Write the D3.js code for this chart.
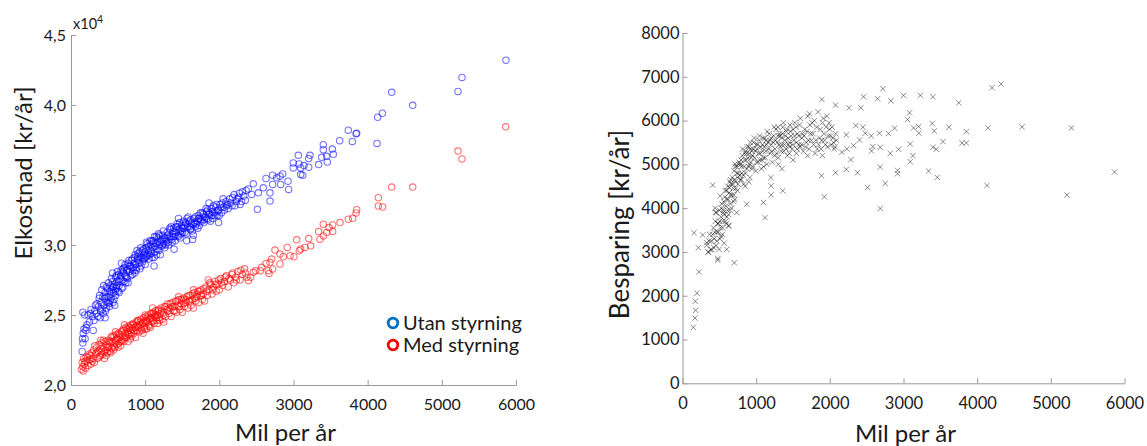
<!DOCTYPE html>
<head>
    <meta charset="utf-8">
    <title>Elkostnad och besparing</title>
    <style>
        body { margin: 0; background: #fff; }
        svg text { font-family: Lato, "Noto Sans", sans-serif; fill: #1a1a1a; }
        .axis path, .axis line { stroke: #9a9a9a; }
    </style>
</head>
<body>
<svg width="1147" height="446"></svg>

<script src="https://cdn.jsdelivr.net/npm/d3@7"></script>

<script>

    //****************data***************************************************//

    // Utan styrning: [mil per år, kr/år]
    var utan = [
        [150,22400],[155,23300],[165,23700],[175,24000],[160,23000],[190,23300],[200,23900],[215,24300],[160,25200],[230,25000],
        [260,25100],[290,24900],[320,25300],[340,25100],[370,25600],[395,24800],[405,25900],[420,25400],[430,26300],[445,25700],
        [460,26600],[470,26000],[480,25500],[490,26900],[500,26300],[510,25800],[520,26700],[530,27100],[540,26200],[550,26800],
        [560,27400],[565,25900],[575,26600],[590,27200],[600,27700],[610,26900],[620,27400],[640,27900],[650,27100],[660,27600],
        [675,28200],[690,27500],[700,27000],[710,28000],[720,28400],[735,27800],[750,28200],[760,27600],[775,28700],[790,28100],
        [800,28500],[815,28900],[830,27900],[840,28400],[855,29100],[870,28600],[880,28200],[895,29000],[905,29400],[915,28700],
        [930,29100],[945,28500],[960,29600],[970,29000],[985,29300],[1000,28600],[1010,29800],[1020,29200],[1040,29600],[1055,29000],
        [1070,30000],[1085,29400],[1100,29800],[1115,30300],[1130,29500],[1145,30100],[1160,29700],[1175,30500],[1190,30000],[1205,29300],
        [1220,30300],[1235,30700],[1250,30100],[1265,29800],[1280,30500],[1295,30900],[1310,30200],[1325,30600],[1340,31100],[1355,30400],
        [1370,30800],[1390,31000],[1405,30300],[1420,31300],[1440,30700],[1455,31100],[1470,30500],[1490,31400],[1505,30900],[1520,31200],
        [1540,31600],[1555,30800],[1575,31300],[1590,31700],[1610,31100],[1625,31500],[1640,30400],[1660,31900],[1680,31300],[1700,31700],
        [1715,32100],[1730,31400],[1750,31800],[1770,32300],[1790,31600],[1810,32000],[1830,32400],[1850,31800],[1870,32200],[1890,32600],
        [1910,31900],[1930,32300],[1950,32700],[1970,32100],[1990,32500],[2010,32900],[2030,32300],[2060,32700],[2090,33100],[2120,32600],
        [2150,33000],[2180,33400],[2210,32800],[2240,33300],[2270,33700],[2300,33100],[2330,33500],[2360,33900],
        [480,26300],[520,25600],[555,27000],[610,27800],[650,26600],[700,28300],[740,27300],[780,28900],[820,28400],[860,28000],
        [900,29200],[940,29800],[990,29000],[1030,30100],[1060,29300],[1090,30300],[1120,29100],[1150,30600],[1200,30200],[1240,30000],
        [1290,30300],[1330,31200],[1380,30600],[1430,31500],[1480,31000],[1530,31400],[1580,32000],[1620,31200],[1670,31600],[1720,31900],
        [1780,32000],[1840,32500],[1900,32100],[1960,32900],[2040,33000],[2100,32800],[440,27100],[380,26200],[350,25800],[600,26400],
        [560,28000],[680,28700],[930,28300],[1180,30800],[1450,31900],[1860,33000],[2200,33600],[2280,32900],
        [310,24600],[330,25700],[360,24900],[385,26400],[400,25300],[415,26800],[435,25100],[450,26200],[465,25300],[475,27000],
        [495,25900],[505,27300],[525,26000],[535,26500],[545,27600],[570,27000],[580,26100],[595,26700],[615,27100],[625,28100],
        [635,26700],[645,27400],[670,27800],[685,26900],[695,28100],[715,27400],[730,28600],[745,27700],[765,28300],[770,27300],
        [785,28500],[805,27800],[825,29000],[835,28200],[850,28700],[865,29300],[885,28400],[890,29600],[910,28900],[925,29500],
        [950,29100],[965,28800],[975,29700],[995,29500],[1005,29100],[1015,30200],[1035,29300],[1045,29900],[1065,30300],[1075,29600],
        [1095,29100],[1105,30100],[1125,30600],[1135,29900],[1155,29300],[1170,30200],[1185,29600],[1195,30700],[1215,29900],[1230,30400],
        [1245,31000],[1260,30500],[1275,30000],[1300,30700],[1315,30000],[1335,30500],[1350,31300],[1365,30200],[1385,31200],[1400,30600],
        [1415,30900],[1435,31300],[1450,30600],[1465,31600],[1485,30800],[1500,31200],[1515,31700],[1535,30900],[1550,31500],[1565,31900],
        [1600,31300],[1615,31800],[1635,31000],[1650,31500],[1675,32000],[1690,31500],[1710,31200],[1725,31900],[1745,32300],[1760,31700],
        [1785,32200],[1800,31800],[1820,32600],[1835,31900],[1860,32300],[1880,31700],[1905,32400],[1920,32800],[1940,32100],[1975,32400],
        [2000,32100],[2020,32700],[2050,33300],[2070,32500],[2110,32900],[2140,33300],[2170,32800],[2230,33100],[2260,33400],[2310,33800],
        [2350,33200],[2390,34000],[1390,29700],[1650,30700],[1120,28500],[300,23900],[250,24500],[270,25400],[185,25000],[205,24100],
        [590,25700],[460,24800],[1990,31600],[1560,30300],
        [2436,33615],[2458,34368],[2512,32550],[2526,33728],[2593,34084],[2629,34751],[2683,33728],[2683,33139],[2719,34986],[2719,34325],
        [2773,34795],[2818,34915],[2827,34325],[2854,35078],[2926,34560],[2935,33970],[2997,35860],[2997,35504],[3065,36406],[3074,35789],
        [3097,35504],[3097,35031],[3124,34986],[3141,35675],[3205,36172],[3205,35554],[3222,36406],[3339,35746],[3380,36264],[3402,37166],
        [3402,36811],[3447,36335],[3456,35930],[3523,36854],[3537,36477],[3622,37450],[3739,38203],[3793,37400],[3843,37950],[3852,37990],
        [4126,37258],[4135,39126],[4198,39411],[4324,40902],[4607,39980],[5218,40973],[5272,41970],[5865,43203]
    ];

    // Med styrning: [mil per år, kr/år]
    var med = [
        [140,21100],[150,21600],[160,21300],[170,21900],[180,21500],[195,21200],[205,22000],[215,21700],[230,21400],[245,22200],
        [255,21800],[270,21500],[280,22300],[295,21900],[305,22500],[315,21600],[330,22200],[345,22700],[355,21900],[370,22400],
        [380,22900],[395,22100],[405,22600],[415,23000],[425,22200],[440,22700],[450,21900],[460,23100],[470,22500],[480,22900],
        [490,22300],[500,23200],[510,22700],[520,22400],[530,23000],[540,23400],[550,22600],[560,23100],[570,22800],[580,23500],
        [590,22700],[600,23200],[610,23600],[620,22900],[630,23300],[640,23700],[650,23000],[660,23400],[670,22800],[680,23800],
        [690,23200],[700,23500],[710,24000],[720,23300],[730,23700],[740,24100],[750,23400],[760,23800],[770,23100],[780,24200],
        [790,23600],[800,23900],[810,24300],[820,23500],[830,24000],[840,24400],[850,23700],[860,24100],[870,23400],[880,24500],
        [890,23900],[900,24200],[910,24600],[920,23800],[930,24300],[940,24700],[950,24000],[960,24400],[970,23700],[980,24800],
        [990,24200],[1000,24500],[1010,24900],[1020,24000],[1030,24500],[1040,25000],[1050,24300],[1060,24700],[1070,24100],[1080,25100],
        [1090,24500],[1100,24800],[1110,25200],[1120,24400],[1130,24900],[1140,25300],[1150,24600],[1160,25000],[1170,24400],[1180,25400],
        [1190,24800],[1200,25100],[1215,25500],[1230,24700],[1245,25200],[1260,25600],[1275,24900],[1290,25400],[1305,25800],[1320,25100],
        [1335,25500],[1350,24900],[1365,25900],[1380,25300],[1395,25600],[1410,26000],[1425,25200],[1440,25700],[1455,26100],[1470,25400],
        [1485,25800],[1500,25200],[1515,26200],[1530,25600],[1545,25900],[1560,26300],[1575,25500],[1590,26000],[1605,26400],[1620,25700],
        [1635,26100],[1650,25500],[1665,26600],[1680,26000],[1695,26300],[1710,26700],[1725,25900],[1740,26400],[1755,26800],[1770,26100],
        [1785,26500],[1800,26000],[1820,27000],[1840,26400],[1860,26800],[1880,27200],[1900,26500],[1920,27000],[1940,27400],[1960,26700],
        [1980,27200],[2000,26800],[2020,27600],[2045,27100],[2070,27400],[2095,27800],[2120,27000],[2145,27500],[2170,27900],[2195,27300],
        [2220,27700],[2250,28100],[2280,27500],[2310,27900],[2340,28300],[2370,27700],
        [165,21000],[190,21700],[225,22000],[260,22100],[290,21700],[320,22800],[350,22300],[385,22000],[410,22400],[435,23200],
        [455,22400],[475,22100],[495,22700],[515,23100],[535,22300],[555,23500],[575,22500],[595,23000],[615,23300],[635,22700],
        [655,23600],[675,23100],[695,23900],[715,23100],[735,23400],[755,24000],[775,23600],[795,24100],[815,23700],[835,24300],
        [855,23900],[875,24200],[895,24600],[915,24100],[935,24500],[955,23900],[975,24500],[995,24000],[1015,24600],[1035,24800],
        [1055,24200],[1075,24800],[1095,25100],[1115,24600],[1135,25000],[1155,24800],[1175,25300],[1195,24600],[1220,25300],[1250,25000],
        [1280,25600],[1310,25300],[1340,25800],[1370,25600],[1400,25300],[1430,26000],[1460,25600],[1490,26100],[1520,25800],[1550,26100],
        [1580,26400],[1610,26000],[1640,26500],[1670,26200],[1700,26500],[1730,26700],[1760,26400],[1790,26900],[1830,26700],[1870,27300],
        [1910,26800],[1950,27200],[1990,27500],[2030,27300],[2080,27700],[2130,27600],[2180,28000],[2230,27500],[2290,28200],[2350,28000],
        [600,23800],[800,23300],[1000,25000],[1250,24500],[1450,26300],[1650,26800],[1850,27500],[400,23200],[720,24300],[1100,25500],
        [2391,27457],[2423,27690],[2458,28048],[2490,28168],[2553,28168],[2571,28402],[2629,28686],[2660,28168],[2670,27970],[2683,28760],
        [2706,28998],[2719,28288],[2750,29635],[2818,29352],[2818,28642],[2862,29162],[2916,29824],[2953,29233],[3007,29162],[3043,30369],
        [3078,29588],[3097,29706],[3155,29824],[3205,30461],[3231,29943],[3339,30960],[3357,30419],[3402,31485],[3402,30650],[3447,30888],
        [3479,31245],[3528,31435],[3528,30960],[3627,31600],[3739,31839],[3798,31910],[3843,32288],[3852,32521],[4144,33374],[4144,32786],
        [4202,32713],[4324,34134],[4607,34134],[5218,36712],[5272,36143],[5861,38442]
    ];

    // Besparing: [mil per år, kr/år]
    var besparing = [
        [330,3150],[350,3000],[370,3400],[390,3250],[400,3050],[420,3550],[430,3300],[445,3700],[455,3150],[470,3450],
        [480,2850],[490,3650],[500,3950],[510,3300],[520,3800],[535,4100],[545,3550],[555,3950],[565,3200],[575,4250],
        [585,3700],[600,4400],[610,3950],[620,4200],[630,3600],[640,4600],[650,4300],[665,4000],[675,4700],[690,4450],
        [700,4850],[710,4200],[720,4600],[735,4950],[745,4400],[760,4800],[770,5050],[785,4650],[800,4950],[810,5200],
        [825,4750],[840,5100],[850,4500],[860,5300],[875,4900],[890,5150],[900,5400],[915,4700],[925,5050],[940,5300],
        [955,4950],[965,5500],[980,5150],[995,4850],[1010,5350],[1025,5050],[1040,5550],[1055,5250],[1070,4900],[1085,5450],
        [1100,5150],[1115,5600],[1130,5300],[1145,5000],[1160,5500],[1175,5700],[1190,5250],[1205,5450],[1220,5050],[1240,5650],
        [1255,5350],[1270,5800],[1285,5500],[1300,5150],[1315,5700],[1330,5400],[1345,5600],[1360,5850],[1375,5300],[1390,5550],
        [1410,5750],[1425,5200],[1440,5450],[1460,5900],[1475,5650],[1490,5350],[1510,5550],[1525,5950],[1545,5250],[1560,5700],
        [1580,5450],[1600,6050],[1620,5600],[1640,5300],[1660,5800],[1680,5500],[1700,6100],[1720,5350],[1740,5700],[1760,5950],
        [1780,5450],[1800,5250],[1820,5850],[1840,6200],[1860,5600],[1880,5350],[1900,5950],[1920,5700],[1940,5450],[1960,6100],
        [1980,5650],[2000,5800],[2020,5450],[2040,5600],[2060,5350],[2080,5700],
        [460,3900],[540,3400],[590,4050],[660,4550],[700,4300],[750,4700],[790,5000],[830,4550],[870,5250],[910,5000],
        [950,5200],[1000,5450],[1050,5100],[1090,5300],[1140,5450],[1200,5600],[1250,5200],[1300,5650],[1350,5450],[1400,5650],
        [1450,5500],[1500,5800],[1550,5500],[1650,5650],[1750,5550],[1850,5450],[1950,5850],[1200,4700],[1100,4950],[1300,5000],
        [1500,5100],[1700,5200],[1900,5200],[900,4600],[800,4650],[600,3800],[650,4100],[1450,5250],[1600,5400],[1350,4900],
        [360,3250],[380,3050],[410,3400],[425,3100],[440,3450],[450,3900],[465,3250],[475,3650],[485,3450],[505,3700],
        [515,3550],[525,3350],[530,4000],[550,3700],[560,4150],[570,3850],[580,4400],[595,3650],[605,4200],[615,4500],
        [625,3850],[635,4350],[645,3950],[655,4650],[670,4300],[680,4550],[695,4150],[705,4650],[715,4950],[725,4450],
        [740,4800],[755,4550],[765,5000],[775,4750],[795,5100],[805,4800],[815,5350],[835,4950],[845,5250],[855,4800],
        [865,5100],[880,5400],[895,4950],[905,5250],[920,5500],[935,5150],[945,4900],[960,5350],[975,5600],[990,5300],
        [1005,5050],[1020,5450],[1035,5250],[1045,5650],[1065,5400],[1080,5100],[1095,5600],[1110,5400],[1125,5150],[1135,5550],
        [1150,5750],[1170,5350],[1185,5550],[1210,5300],[1230,5500],[1245,5850],[1265,5550],[1280,5250],[1295,5850],[1310,5450],
        [1325,5650],[1340,5300],[1355,5700],[1370,5950],[1385,5450],[1405,5350],[1420,5800],[1435,5600],[1455,5400],[1470,5750],
        [1500,5450],[1520,5650],[1540,5850],[1555,5350],[1575,5650],[1590,5900],[1615,5450],[1630,5700],[1670,5400],[1690,5750],
        [1710,5550],[1730,5900],[1770,5700],[1790,6000],[1810,5550],[1830,5350],[1870,5800],[1890,5550],[1910,6050],[1930,5550],
        [1970,5400],[1990,5950],[2010,5650],[2030,5850],[2050,5500],[2070,5400],[2090,5550],
        [147,1277],[170,1490],[179,1667],[174,1873],[197,2057],[224,2546],[156,3440],[215,3096],[274,3387],[328,3211],
        [351,2997],[410,4526],[478,2813],[704,2752],[496,3058],[600,3058],[442,3998],[510,4281],[555,3899],[623,3593],
        [636,4472],[713,5007],[736,3899],[872,4090],[926,5351],[1099,4128],[1121,3784],[1203,4510],[1203,4304],[1361,4396],
        [1724,6154],[1892,6483],[2078,6353],[2259,6292],[2421,6292],[2458,6544],[2648,6498],[2720,6728],[2829,6452],[3001,6575],
        [3228,6575],[3400,6544],[3749,6406],[4202,6751],[4325,6835],[4609,5856],[5280,5833],[4147,5833],[5221,4297],[5864,4824],
        [4134,4518],[2684,3991],[2512,4472],[2752,4564],[1927,4258],[1887,4740],[2078,4809],[2223,4885],[2376,4809],[2684,4939],
        [2920,4862],[2920,4786],[3341,4847],[3459,4702],[3091,5061],[3127,5199],[3091,5466],[2933,5344],[2820,5252],[2566,5306],
        [2684,5390],[2584,5405],[2285,5107],[2403,5558],[2322,5428],[2231,5352],[2163,5275],[2223,5673],[2353,5887],[2449,5849],
        [2481,5711],[2562,5650],[2675,5711],[2797,5703],[2879,5826],[3055,6024],[3082,6177],[3137,5833],[3205,5864],[3210,5711],
        [3390,5933],[3418,5764],[3536,5520],[3617,5849],[3794,5489],[3853,5489],[3853,5749],[3400,5390],[3445,5344]
    ];

    var xTicks = [0, 1000, 2000, 3000, 4000, 5000, 6000];
    var leftYTicks = [20000, 25000, 30000, 35000, 40000, 45000];
    var rightYTicks = [0, 1000, 2000, 3000, 4000, 5000, 6000, 7000, 8000];
    var legendItems = [
        {name: "Utan styrning", color: "#0070c0"},
        {name: "Med styrning", color: "#ff0000"}
    ];

    var svg = d3.select("svg");

    //****************left chart****************************//

    var xL = d3.scaleLinear().domain([0, 6000]).range([71, 516]);
    var yL = d3.scaleLinear().domain([20000, 45000]).range([385, 35]);

    svg.append("g")
        .attr("class", "axis")
        .attr("transform", "translate(0," + yL(20000) + ")")
        .call(d3.axisBottom(xL).tickValues(xTicks).tickSizeInner(-5).tickSizeOuter(0).tickPadding(13.5)
            .tickFormat(d3.format("d")))
        .call(g => g.selectAll("text").style("font-size", "16px").style("font-family", null));

    svg.append("g")
        .attr("class", "axis")
        .attr("transform", "translate(" + xL(0) + ",0)")
        .call(d3.axisLeft(yL).tickValues(leftYTicks).tickSizeInner(-5).tickSizeOuter(0).tickPadding(5)
            .tickFormat(d => d3.format(".1f")(d / 10000).replace(".", ",")))
        .call(g => g.selectAll("text").style("font-size", "16px").style("font-family", null));

    //scale factor above the axis
    var factor = svg.append("text").attr("x", 73).attr("y", 29).style("font-size", "14.5px");
    factor.append("tspan").text("x10");
    factor.append("tspan").attr("dy", -6).style("font-size", "10.5px").text("4");

    svg.append("g")
        .selectAll("circle")
        .data(utan)
        .enter().append("circle")
            .attr("cx", d => xL(d[0]))
            .attr("cy", d => yL(d[1]))
            .attr("r", 3.2)
            .attr("fill", "none")
            .attr("stroke", "#0000ff")
            .attr("stroke-width", 1.1)
            .attr("stroke-opacity", 0.55);

    svg.append("g")
        .selectAll("circle")
        .data(med)
        .enter().append("circle")
            .attr("cx", d => xL(d[0]))
            .attr("cy", d => yL(d[1]))
            .attr("r", 3.2)
            .attr("fill", "none")
            .attr("stroke", "#ff0000")
            .attr("stroke-width", 1.1)
            .attr("stroke-opacity", 0.55);

    svg.append("text")
        .attr("x", (xL(0) + xL(6000)) / 2 - 8)
        .attr("y", 441)
        .attr("text-anchor", "middle")
        .style("font-size", "24px")
        .text("Mil per år");

    svg.append("text")
        .attr("transform", "translate(31.5,173) rotate(-90)")
        .attr("text-anchor", "middle")
        .style("font-size", "24px")
        .text("Elkostnad [kr/år]");

    //legend
    var legend = svg.append("g")
        .selectAll("g")
        .data(legendItems)
        .enter().append("g")
            .attr("transform", (d, i) => "translate(393," + (323 + i * 22) + ")");

    legend.append("circle")
        .attr("r", 4.8)
        .attr("fill", "none")
        .attr("stroke", d => d.color)
        .attr("stroke-width", 2.8);

    legend.append("text")
        .attr("x", 10)
        .attr("y", 7)
        .style("font-size", "20px")
        .text(d => d.name);

    //****************right chart****************************//

    var xR = d3.scaleLinear().domain([0, 6000]).range([682.5, 1124.5]);
    var yR = d3.scaleLinear().domain([0, 8000]).range([383.3, 33]);

    svg.append("g")
        .attr("class", "axis")
        .attr("transform", "translate(0," + yR(0) + ")")
        .call(d3.axisBottom(xR).tickValues(xTicks).tickSizeInner(-5).tickSizeOuter(0).tickPadding(13.5)
            .tickFormat(d3.format("d")))
        .call(g => g.selectAll("text").style("font-size", "16.5px").style("font-family", null));

    svg.append("g")
        .attr("class", "axis")
        .attr("transform", "translate(" + xR(0) + ",0)")
        .call(d3.axisLeft(yR).tickValues(rightYTicks).tickSizeInner(-5).tickSizeOuter(0).tickPadding(3)
            .tickFormat(d3.format("d")))
        .call(g => g.selectAll("text").style("font-size", "16.5px").style("font-family", null));

    svg.selectAll(".axis .domain").attr("stroke", "#9a9a9a");

    svg.append("g")
        .selectAll("path")
        .data(besparing)
        .enter().append("path")
            .attr("transform", d => "translate(" + xR(d[0]) + "," + yR(d[1]) + ")")
            .attr("d", "M-2.7,-2.7L2.7,2.7M-2.7,2.7L2.7,-2.7")
            .attr("fill", "none")
            .attr("stroke", "#000")
            .attr("stroke-opacity", 0.45);

    svg.append("text")
        .attr("x", (xR(0) + xR(6000)) / 2 + 2)
        .attr("y", 442)
        .attr("text-anchor", "middle")
        .style("font-size", "24px")
        .text("Mil per år");

    svg.append("text")
        .attr("transform", "translate(629,224.5) rotate(-90)")
        .attr("text-anchor", "middle")
        .style("font-size", "26px")
        .text("Besparing [kr/år]");

</script>
</body>
